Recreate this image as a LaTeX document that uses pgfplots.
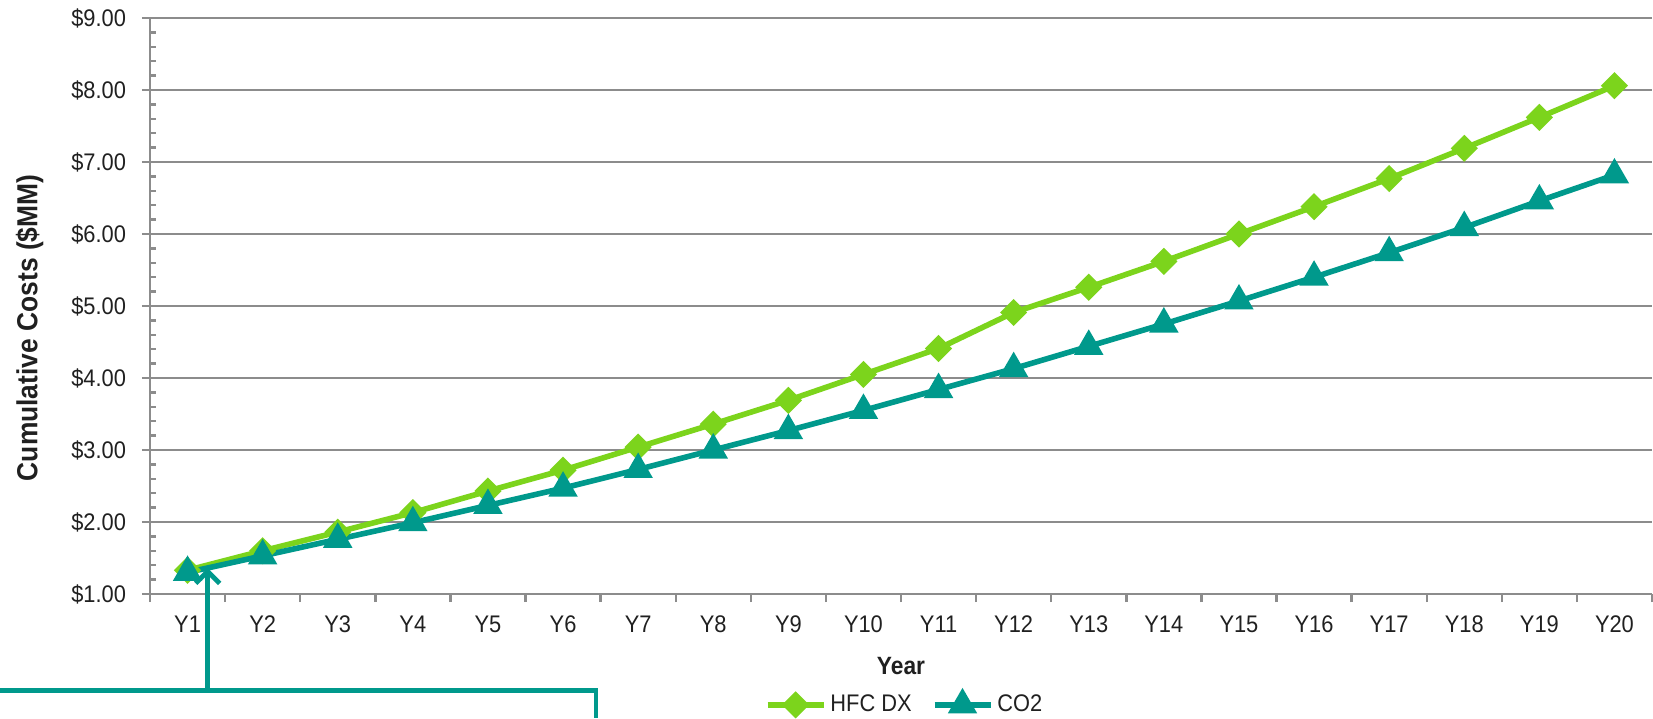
\documentclass[border=0pt]{standalone}
\usepackage{fontspec}
\setmainfont{Liberation Sans}[FakeStretch=0.91]
\usepackage{pgfplots}
\pgfplotsset{compat=1.18}
\usetikzlibrary{arrows.meta}
\definecolor{hfc}{RGB}{124,212,28}
\definecolor{co2}{RGB}{0,153,140}
\definecolor{gridc}{RGB}{140,140,140}
\definecolor{txt}{RGB}{32,32,32}

\pgfplotstableread{
x hfc co2
1 1.33 1.30
2 1.60 1.53
3 1.86 1.76
4 2.13 1.99
5 2.43 2.23
6 2.72 2.47
7 3.04 2.73
8 3.36 3.00
9 3.69 3.27
10 4.05 3.55
11 4.41 3.84
12 4.91 4.13
13 5.26 4.44
14 5.62 4.75
15 6.00 5.07
16 6.38 5.40
17 6.77 5.74
18 7.19 6.09
19 7.62 6.46
20 8.06 6.82
}\datatable

\begin{document}
\begin{tikzpicture}
\path[use as bounding box] (0,0) rectangle (826.5pt,359pt);
\begin{axis}[
  at={(75pt,62pt)}, anchor=south west,
  scale only axis, width=751pt, height=288pt,
  xmin=0.5, xmax=20.5, ymin=1, ymax=9,
  axis x line*=bottom, axis y line*=left,
  axis line style={draw=gridc, line width=1.2pt, -},
  tick align=outside,
  major tick length=4pt,
  minor tick length=3pt,
  xtick={1,...,20},
  xticklabels={Y1,Y2,Y3,Y4,Y5,Y6,Y7,Y8,Y9,Y10,Y11,Y12,Y13,Y14,Y15,Y16,Y17,Y18,Y19,Y20},
  major x tick style={draw=none},
  extra x ticks={0.5,1.5,...,20.5},
  extra x tick labels={},
  extra x tick style={major x tick style={draw=gridc, line width=1.2pt}},
  ytick={1,...,9},
  yticklabels={\$1.00,\$2.00,\$3.00,\$4.00,\$5.00,\$6.00,\$7.00,\$8.00,\$9.00},
  minor y tick num=4,
  major y tick style={draw=gridc, line width=1.2pt},
  minor y tick style={draw=gridc, line width=1.2pt, xshift=3pt},
  ymajorgrids,
  major grid style={draw=gridc, line width=1.2pt},
  tick label style={font=\fontsize{12}{14}\selectfont, text=txt},
  xticklabel style={anchor=base, yshift=-15.4pt},
  yticklabel style={anchor=east, xshift=-4.5pt},
  xlabel={Year},
  xlabel style={font=\fontsize{12.5}{14}\selectfont\bfseries, text=txt, at={(axis description cs:0.5,-0.125)}, anchor=center},
  ylabel={Cumulative Costs (\$MM)},
  ylabel style={font=\fontsize{14.5}{16}\selectfont\bfseries, text=txt, at={(axis description cs:-0.0802,0.462)}, anchor=center},
  legend columns=2,
  legend style={draw=none, fill=none, at={(0.503,-0.1925)}, anchor=center,
    font=\fontsize{12}{14}\selectfont, text=txt, inner sep=0pt,
    /tikz/every even column/.append style={column sep=8pt}},
  legend image code/.code={\draw[mark repeat=2,mark phase=2,#1] plot coordinates {(0pt,0pt) (14pt,0pt) (28pt,0pt)};},
  clip=false,
]
\addplot[hfc, line width=2.8pt, mark=square*, mark size=3.4pt, mark options={rotate=45, solid}] table[x=x,y=hfc]{\datatable};
\addlegendentry{HFC DX}
\addplot[co2, line width=2.8pt, mark=triangle*, mark size=5.7pt, mark options={solid}] table[x=x,y=co2]{\datatable};
\addlegendentry{CO2}
\end{axis}
\draw[co2, line width=2.4pt] (0pt,13.75pt) -- (298pt,13.75pt) -- (298pt,0pt);
\draw[co2, line width=2.4pt, -{Straight Barb[length=6pt,width=12pt]}] (103.85pt,13.75pt) -- (103.85pt,75pt);
\end{tikzpicture}
\end{document}
